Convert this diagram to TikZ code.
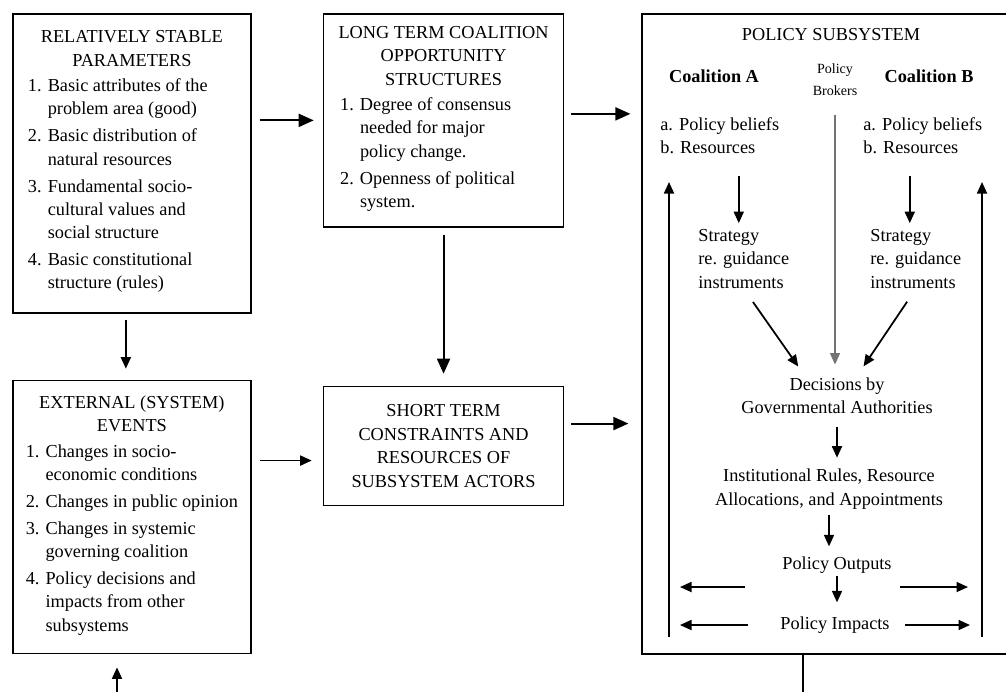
\documentclass[tikz,border=0pt]{standalone}
\usepackage{fontspec}
\setmainfont{Liberation Serif}
\usepackage{tikz}
\usetikzlibrary{arrows.meta,positioning}
\newcommand{\bodyfont}{\fontsize{10.4}{13.3}\selectfont}
\newcommand{\brokerfont}{\fontsize{8}{12.6}\selectfont}

\begin{document}
\begin{tikzpicture}[
  x=0.02cm, y=-0.02cm,
  font=\bodyfont,
  box/.style={draw, line width=1pt, align=center, inner xsep=3pt, inner ysep=2pt},
  txt/.style={inner sep=0pt, align=left},
  ctxt/.style={inner sep=0pt, align=center},
  arr/.style={-{Triangle[length=2.3mm,width=2mm]}, line width=1pt},
  bigarr/.style={-{Triangle[length=3mm,width=2.6mm]}, line width=1.1pt},
  fbline/.style={line width=1pt},
]
\useasboundingbox (0,0) rectangle (1006,691);
\clip (0,0) rectangle (1006,691);

% left column
\node[box, minimum width=4.76cm, minimum height=5.98cm, anchor=north west] (stable) at (12,13) {RELATIVELY STABLE\\PARAMETERS\\[4pt]
  \begin{tabular}{@{}l@{ }l@{}}
  1. & Basic attributes of the\\
     & problem area (good)\\[2pt]
  2. & Basic distribution of\\
     & natural resources\\[2pt]
  3. & Fundamental socio-\\
     & cultural values and\\
     & social structure\\[2pt]
  4. & Basic constitutional\\
     & structure (rules)
  \end{tabular}\hspace*{16pt}};
\node[box, minimum width=4.76cm, minimum height=5.46cm, below=1.32cm of stable] (external) {EXTERNAL (SYSTEM)\\EVENTS\\[4pt]
  \begin{tabular}{@{}l@{ }l@{}}
  1. & Changes in socio-\\
     & economic conditions\\[2pt]
  2. & Changes in public opinion\\[2pt]
  3. & Changes in systemic\\
     & governing coalition\\[2pt]
  4. & Policy decisions and\\
     & impacts from other\\
     & subsystems
  \end{tabular}};

% middle column
\node[box, minimum width=4.8cm, minimum height=4.26cm, right=1.42cm of stable.north east, anchor=north west] (longterm) {LONG TERM COALITION\\OPPORTUNITY\\STRUCTURES\\[4pt]
  \begin{tabular}{@{}l@{ }l@{}}
  1. & Degree of consensus\\
     & needed for major\\
     & policy change.\\[2pt]
  2. & Openness of political\\
     & system.
  \end{tabular}\hspace*{18pt}};
\node[box, minimum width=4.8cm, minimum height=2.38cm, below=3.16cm of longterm] (shortterm) {SHORT TERM\\CONSTRAINTS AND\\RESOURCES OF\\SUBSYSTEM ACTORS};

% policy subsystem
\node[draw, line width=1pt, inner sep=0pt, minimum width=7.64cm, minimum height=12.8cm, right=1.54cm of longterm.north east, anchor=north west] (subsys) {};
\node[ctxt] (subsysT) at (831,35) {POLICY SUBSYSTEM};
\node[ctxt, font=\bodyfont\bfseries] (coalA) at (714,76) {Coalition A};
\node[ctxt, font=\brokerfont] (brokers) at (835,80) {Policy\\Brokers};
\node[ctxt, font=\bodyfont\bfseries] (coalB) at (929,76) {Coalition B};
\node[txt, anchor=west] (beliefA) at (660,136) {a. Policy beliefs\\b. Resources};
\node[txt, anchor=west] (beliefB) at (863,136) {a. Policy beliefs\\b. Resources};
\node[txt, anchor=west] (stratA) at (698,259) {Strategy\\re. guidance\\instruments};
\node[txt, anchor=west] (stratB) at (870,259) {Strategy\\re. guidance\\instruments};
\node[ctxt] (decisions) at (837,396) {Decisions by\\Governmental Authorities};
\node[ctxt] (rules) at (829,489) {Institutional Rules, Resource\\Allocations, and Appointments};
\node[ctxt] (outputs) at (837,565) {Policy Outputs};
\node[ctxt] (impacts) at (835,625) {Policy Impacts};

% helper points
\coordinate (p2) at ([yshift=0.13cm]longterm.east);
\coordinate (p3) at ([yshift=-0.29cm]shortterm.west);
\coordinate (p4) at ([yshift=0.45cm]shortterm.east);
\coordinate (p5) at ([xshift=-0.12cm]stable.south);
\coordinate (fbL) at (117,700);
\coordinate (fbR) at (803,700);
\coordinate (upA) at (669,637);
\coordinate (upAtop) at (669,182);
\coordinate (upB) at (982,637);
\coordinate (upBtop) at (982,182);
\coordinate (stA) at ([xshift=-0.1cm]stratA.north);
\coordinate (stB) at ([xshift=-0.12cm]stratB.north);
\coordinate (dA) at ([xshift=-0.62cm]decisions.north);
\coordinate (dB) at ([xshift=0.38cm]decisions.north);
\coordinate (oL) at (745,587);
\coordinate (oR) at (900,587);

% arrows between boxes
\draw[bigarr, shorten <=0.16cm, shorten >=0.18cm] (stable.east |- longterm.west) -- (longterm.west);
\draw[bigarr, shorten <=0.14cm, shorten >=0.22cm] (p2) -- (p2 -| subsys.west);
\draw[arr, shorten <=0.16cm, shorten >=0.22cm] (p3 -| external.east) -- (p3);
\draw[bigarr, shorten <=0.14cm, shorten >=0.26cm] (p4) -- (p4 -| subsys.west);
\draw[arr, shorten <=0.12cm, shorten >=0.22cm] (p5) -- (p5 |- external.north);
\draw[bigarr, shorten <=0.14cm, shorten >=0.24cm] (longterm.south) -- (shortterm.north);
\draw[arr, shorten >=0.26cm] (fbL) -- (fbL |- external.south);
\draw[fbline] (fbR |- subsys.south) -- (fbR);

% arrows inside the subsystem
\draw[arr] (upA) -- (upAtop);
\draw[arr] (upB) -- (upBtop);
\draw[arr, shorten <=0.42cm, shorten >=0.12cm] (stA |- beliefA.south) -- (stA);
\draw[arr, shorten <=0.42cm, shorten >=0.12cm] (stB |- beliefB.south) -- (stB);
\draw[arr, draw=black!55, line width=0.8pt, shorten <=0.38cm, shorten >=0.26cm] (brokers.south) -- (brokers.south |- decisions.north);
\draw[arr, shorten <=0.32cm, shorten >=0.27cm] (stratA.south) -- (dA);
\draw[arr, shorten <=0.31cm, shorten >=0.27cm] (stratB.south) -- (dB);
\draw[arr, shorten <=0.26cm, shorten >=0.22cm] (decisions.south) -- (decisions.south |- rules.north);
\draw[arr, shorten <=0.12cm, shorten >=0.2cm] (rules.south) -- (rules.south |- outputs.north);
\draw[arr, shorten <=0.04cm, shorten >=0.28cm] (outputs.south) -- (outputs.south |- impacts.north);
\draw[arr, shorten >=0.22cm] (oL) -- (oL -| upA);
\draw[arr, shorten >=0.28cm] (oR) -- (oR -| upB);
\draw[arr, shorten <=0.64cm, shorten >=0.22cm] (impacts.west) -- (impacts.west -| upA);
\draw[arr, shorten <=0.3cm, shorten >=0.24cm] (impacts.east) -- (impacts.east -| upB);
\end{tikzpicture}
\end{document}
